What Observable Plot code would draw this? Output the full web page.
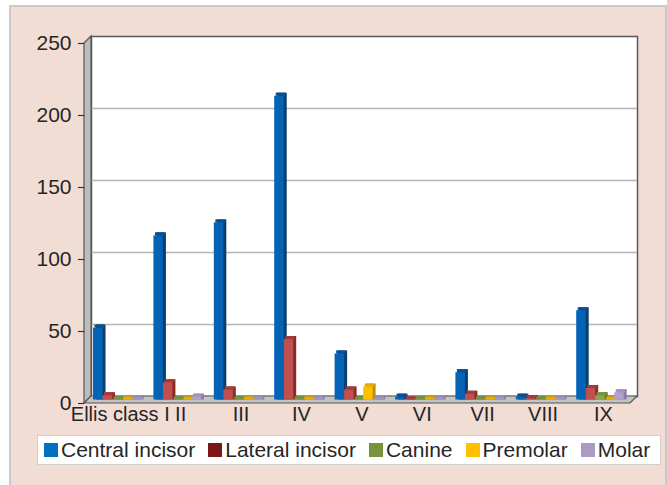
<!DOCTYPE html>
<html>
<head>
<meta charset="utf-8">
<script src="https://cdn.jsdelivr.net/npm/d3@7"></script>
<script src="https://cdn.jsdelivr.net/npm/@observablehq/plot@0.6"></script>
<style>
  html, body { margin: 0; padding: 0; width: 667px; height: 485px; overflow: hidden; background: #ffffff; }
  #page { position: relative; width: 667px; height: 485px; font-family: "Liberation Sans", Arial, sans-serif; color: #262626; }
  #box { position: absolute; left: 9px; top: 5px; width: 654px; height: 500px; border: 2px solid #c9c9c9; background: #f2ddd5; }
  #chart { position: absolute; left: 0; top: 0; }
  #legend { position: absolute; left: 37px; top: 435px; width: 616px; height: 28px; border: 1px solid #cfcfcf; background: #fff;
            display: flex; align-items: center; gap: 13px; padding-left: 6px; box-sizing: content-box; font-size: 21px; white-space: nowrap; }
  .item { display: flex; align-items: center; }
  .sw { width: 14px; height: 14px; margin-right: 3px; }
</style>
</head>
<body>
<div id="page">
  <div id="box"></div>
  <div id="chart"></div>
  <div id="legend"></div>
</div>
<script>
// ---- data ----
const classes = ["Ellis class I", "II", "III", "IV", "V", "VI", "VII", "VIII", "IX"];
const types = ["Central incisor", "Lateral incisor", "Canine", "Premolar", "Molar"];
const centralIncisor = [50, 114, 123, 211, 32, 2, 19, 2, 62];
const lateralIncisor = [3, 12, 7, 42, 7, 0, 4, 1, 8];
const canine = [0, 0, 0, 0, 0, 0, 0, 0, 3];
const premolar = [0, 0, 0, 0, 9, 0, 0, 0, 0];
const molar = [0, 2, 0, 0, 0, 0, 0, 0, 5];
const yTicks = [0, 50, 100, 150, 200, 250];

const seriesValues = [centralIncisor, lateralIncisor, canine, premolar, molar];
const frontColors = ["#0563b5", "#c0504d", "#88a84a", "#ffc000", "#b3a2c7"];
const topColors = ["#0a4f94", "#a33c39", "#77933c", "#e6ad00", "#a493c0"];
const sideColors = ["#0b3e70", "#8a2a27", "#5f7a2e", "#c08c00", "#8b7aa6"];
const legendColors = ["#0070c0", "#7b1717", "#77933c", "#ffc000", "#a99bc6"];

const rows = [];
types.forEach((t, i) => classes.forEach((c, j) => rows.push({cls: c, type: t, value: seriesValues[i][j]})));

// ---- layout ----
const W = 667, H = 430;
const mL = 87.5, mR = 33.5, mT = 39.5, mB = 30.5;
const pI = 0.214, pO = 0.127, align = 0.36;
const depth = 3.5;
const step = (W - mL - mR) / (classes.length - pI + 2 * pO);
const bw = step * (1 - pI);
const w = bw / types.length;

const barMarks = [];
types.forEach((t, i) => {
  const data = rows.filter(r => r.type === t);
  const ins = {insetLeft: i * w, insetRight: (types.length - 1 - i) * w};
  barMarks.push(Plot.barY(data, {x: "cls", y: "value", ...ins, fill: sideColors[i], dx: 3, dy: -3, insetBottom: -3}));
  barMarks.push(Plot.barY(data, {x: "cls", y1: "value", y2: "value", ...ins, fill: topColors[i], dx: 1.5, insetTop: -3}));
  barMarks.push(Plot.barY(data, {x: "cls", y: "value", ...ins, fill: frontColors[i]}));
});

const plot = Plot.plot({
  width: W, height: H,
  marginLeft: mL, marginRight: mR, marginTop: mT, marginBottom: mB,
  style: {background: "transparent", fontFamily: "Liberation Sans, Arial, sans-serif", color: "#262626", overflow: "visible"},
  x: {domain: classes, paddingInner: pI, paddingOuter: pO, align, round: false, axis: null},
  y: {domain: [0, 250], axis: null},
  marks: [
    Plot.frame({fill: "white", stroke: "#5a5a5a", strokeWidth: 1.5, dx: depth, dy: -depth}),
    Plot.ruleY(yTicks.slice(1, -1), {y: d => d, stroke: "#b5b5b5", strokeWidth: 1.5, dx: depth, dy: -depth}),
    ...barMarks,
    Plot.text(classes, {x: d => d, frameAnchor: "bottom", dy: 21, dx: 3, fontSize: 20}),
    Plot.text(yTicks, {y: d => d, frameAnchor: "left", dx: -16.5, dy: depth, textAnchor: "end", fontSize: 21}),
    Plot.ruleY(yTicks, {y: d => d, dx: -9.5, dy: depth, insetRight: (W - mL - mR) - 6, stroke: "#333", strokeWidth: 1.2})
  ]
});

// 3D walls (left wall & floor) drawn with the plot's scales
const ys = plot.scale("y"), xs = plot.scale("x");
const yTop = ys.apply(250), y0 = ys.apply(0);
const x0 = xs.range[0], x1 = xs.range[1];
const svg = d3.select(plot);
const g = svg.insert("g", "g[aria-label='bar']");
g.append("polygon")
  .attr("points", [[x0 - depth, yTop + depth], [x0 + depth, yTop - depth], [x0 + depth, y0 - depth], [x0 - depth, y0 + depth]].join(" "))
  .attr("fill", "#bdbdc0").attr("stroke", "#555").attr("stroke-width", 1.2);
g.append("polygon")
  .attr("points", [[x0 - depth, y0 + depth], [x0 + depth, y0 - depth], [x1 + depth, y0 - depth], [x1 - depth, y0 + depth]].join(" "))
  .attr("fill", "#c3c3c3").attr("stroke", "#555").attr("stroke-width", 1.2);

document.getElementById("chart").appendChild(plot);

// legend
const lg = d3.select("#legend");
types.forEach((t, i) => {
  const it = lg.append("div").attr("class", "item");
  it.append("div").attr("class", "sw").style("background", legendColors[i]);
  it.append("span").text(t);
});
</script>
</body>
</html>
